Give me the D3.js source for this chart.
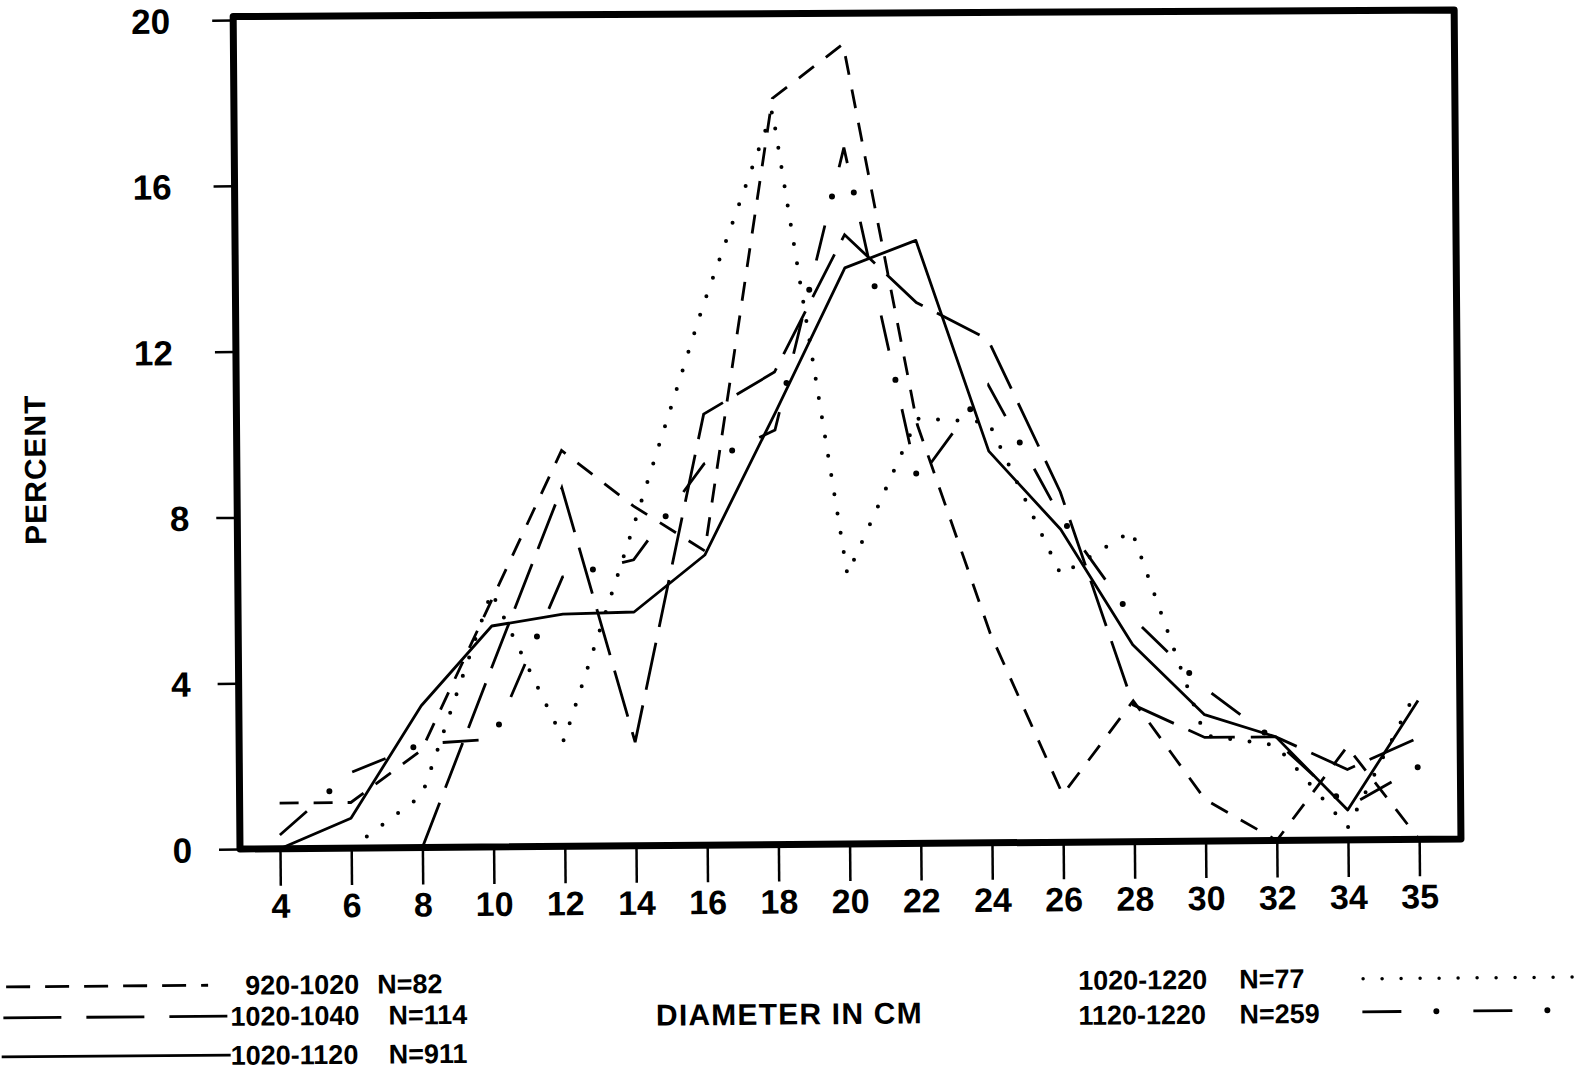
<!DOCTYPE html>
<html>
<head>
<meta charset="utf-8">
<script src="https://cdn.jsdelivr.net/npm/d3@7"></script>
<style>
html,body{margin:0;padding:0;background:#fff;}
svg{display:block;}
</style>
</head>
<body>
<svg id="chart" width="1582" height="1071"></svg>
<script>
// ---------- data ----------
const diameters = ["4","6","8","10","12","14","16","18","20","22","24","26","28","30","32","34","35"];
const yTicks = [0, 4, 8, 12, 16, 20];

// 920-1020 N=82 (short dashes)
const pct920_1020  = [1.1, 1.1, 2.35, 5.95, 9.55, 8.2, 7.1, 18.0, 19.3, 10.1, 5.05, 1.15, 3.4, 1.0, 0, 2.25, 0];
// 1020-1040 N=114 (long dashes)
const pct1020_1040 = [null, null, 0, 4.35, 8.65, 2.5, 10.4, 11.4, 14.7, 13.05, 12.15, 8.45, 3.3, 2.5, 2.5, 1.7, 2.45];
// 1020-1120 N=911 (solid)
const pct1020_1120 = [0, 0.72, 3.42, 5.33, 5.6, 5.64, 7.0, 10.4, 13.9, 14.55, 9.45, 7.55, 4.75, 3.05, 2.5, 0.72, 3.35];
// 1020-1220 N=77 (dotted)
const pct1020_1220 = [null, 0, 1.26, 6.15, 2.54, 7.7, 13.0, 17.7, 6.5, 10.25, 10.15, 6.45, 7.5, 2.55, 2.3, 0.3, 3.65];
// 1120-1220 N=259 (dash-dot)
const pct1120_1220 = [0.33, 1.82, 2.5, 2.6, 6.5, 6.9, 9.2, 10.0, 16.8, 8.75, 11.05, 7.85, 5.4, 3.7, 2.4, 0.8, 1.75];

const seriesRanges = ["920-1020", "1020-1040", "1020-1120", "1020-1220", "1120-1220"];
const seriesCounts = ["N=82", "N=114", "N=911", "N=77", "N=259"];

const xTitle = "DIAMETER IN CM";
const yTitle = "PERCENT";

// ---------- drawing ----------
const font = "'Liberation Sans', Arial, Helvetica, sans-serif";
const svg = d3.select("#chart");
svg.append("rect").attr("width", 1582).attr("height", 1071).attr("fill", "#fff");
const g = svg.append("g").attr("transform", "rotate(-0.47,240,849)");

const x = d3.scalePoint().domain(diameters).range([280, 1419.2]);
const y = d3.scaleLinear().domain([0, 20]).range([849, 20]);

// frame (scanned original is slightly out of square)
g.append("path")
  .attr("d", d3.line()([[240, 16.5], [1461, 20], [1461, y(0)], [240, y(0)]]) + "Z")
  .attr("fill", "none").attr("stroke", "#000")
  .attr("stroke-width", 7).attr("stroke-linejoin", "round");

// y axis
const yAxis = g.append("g").attr("transform", "translate(240,0)")
  .call(d3.axisLeft(y).tickValues(yTicks).tickSize(21).tickFormat(d3.format("d")));
yAxis.select(".domain").remove();
yAxis.selectAll("line").attr("stroke", "#000").attr("stroke-width", 2.5);
yAxis.selectAll("text")
  .attr("font-family", font).attr("font-weight", "bold").attr("font-size", 35)
  .attr("fill", "#000").attr("dy", "0.36em")
  .attr("x", d => (String(d).length > 1 ? -63 : -48));

// x axis
const xAxis = g.append("g").attr("transform", `translate(0,${y(0)})`)
  .call(d3.axisBottom(x).tickSize(37));
xAxis.select(".domain").remove();
xAxis.selectAll("line").attr("stroke", "#000").attr("stroke-width", 2.5);
xAxis.selectAll("text")
  .attr("font-family", font).attr("font-weight", "bold").attr("font-size", 34)
  .attr("fill", "#000").attr("dy", null).attr("y", 69);

// axis titles
g.append("text")
  .attr("transform", "translate(38,468) rotate(-90)")
  .attr("text-anchor", "middle").attr("dy", "0.36em")
  .attr("font-family", font).attr("font-weight", "bold").attr("font-size", 30)
  .attr("letter-spacing", 1)
  .text(yTitle);
g.append("text")
  .attr("x", 788).attr("y", 1029)
  .attr("text-anchor", "middle")
  .attr("font-family", font).attr("font-weight", "bold").attr("font-size", 30)
  .attr("letter-spacing", 1.2)
  .text(xTitle);

// series
const line = d3.line()
  .defined(d => d[1] !== null)
  .x(d => x(d[0]))
  .y(d => y(d[1]));
const pts = vals => diameters.map((c, i) => [c, vals[i]]);
const plot = g.append("g").attr("fill", "none").attr("stroke", "#000");

// solid
plot.append("path").attr("d", line(pts(pct1020_1120)))
  .attr("stroke-width", 2.8).attr("stroke-linejoin", "round");
// long dash
plot.append("path").attr("d", line(pts(pct1020_1040)))
  .attr("stroke-width", 2.8).attr("stroke-dasharray", "48,16");
// short dash
plot.append("path").attr("d", line(pts(pct920_1020)))
  .attr("stroke-width", 2.8).attr("stroke-dasharray", "19,15");
// dotted
plot.append("path").attr("d", line(pts(pct1020_1220)))
  .attr("stroke-width", 4).attr("stroke-linecap", "round").attr("stroke-dasharray", "0,19.5");
// dash-dot: dashes + dots
plot.append("path").attr("d", line(pts(pct1120_1220)))
  .attr("stroke-width", 2.8).attr("stroke-dasharray", "36,60");
plot.append("path").attr("d", line(pts(pct1120_1220)))
  .attr("stroke-width", 6).attr("stroke-linecap", "round")
  .attr("stroke-dasharray", "0,96").attr("stroke-dashoffset", 30);

// legend
const leg = g.append("g").attr("font-family", font).attr("font-weight", "bold")
  .attr("font-size", 27).attr("fill", "#000");
const legLines = g.append("g").attr("fill", "none").attr("stroke", "#000");

// left block: short dash, long dash, solid
const leftRows = [
  {i: 0, cy: 985, x1: 5, x2: 207, tx: 244, nx: 376, dash: "24,15"},
  {i: 1, cy: 1016, x1: 2, x2: 229, tx: 229, nx: 387, dash: "58,25"},
  {i: 2, cy: 1055, x1: 0, x2: 229, tx: 229, nx: 387, dash: null}
];
leftRows.forEach(r => {
  const p = legLines.append("path")
    .attr("d", d3.line()([[r.x1, r.cy], [r.x2, r.cy]]))
    .attr("stroke-width", 2.8);
  if (r.dash) p.attr("stroke-dasharray", r.dash);
  leg.append("text").attr("x", r.tx).attr("y", r.cy).attr("dy", "0.36em").text(seriesRanges[r.i]);
  leg.append("text").attr("x", r.nx).attr("y", r.cy).attr("dy", "0.36em").text(seriesCounts[r.i]);
});

// right block: dotted, dash-dot
leg.append("text").attr("x", 1077).attr("y", 987).attr("dy", "0.36em").text(seriesRanges[3]);
leg.append("text").attr("x", 1238).attr("y", 987).attr("dy", "0.36em").text(seriesCounts[3]);
leg.append("text").attr("x", 1077).attr("y", 1022).attr("dy", "0.36em").text(seriesRanges[4]);
leg.append("text").attr("x", 1238).attr("y", 1022).attr("dy", "0.36em").text(seriesCounts[4]);

legLines.append("path")
  .attr("d", d3.line()([[1362, 988], [1585, 988]]))
  .attr("stroke-width", 3.5).attr("stroke-linecap", "round").attr("stroke-dasharray", "0,19");
legLines.append("path")
  .attr("d", d3.line()([[1361, 1021], [1585, 1021]]))
  .attr("stroke-width", 2.8).attr("stroke-dasharray", "39,72");
legLines.append("path")
  .attr("d", d3.line()([[1361, 1021], [1585, 1021]]))
  .attr("stroke-width", 6).attr("stroke-linecap", "round")
  .attr("stroke-dasharray", "0,111").attr("stroke-dashoffset", 37);
</script>
</body>
</html>
